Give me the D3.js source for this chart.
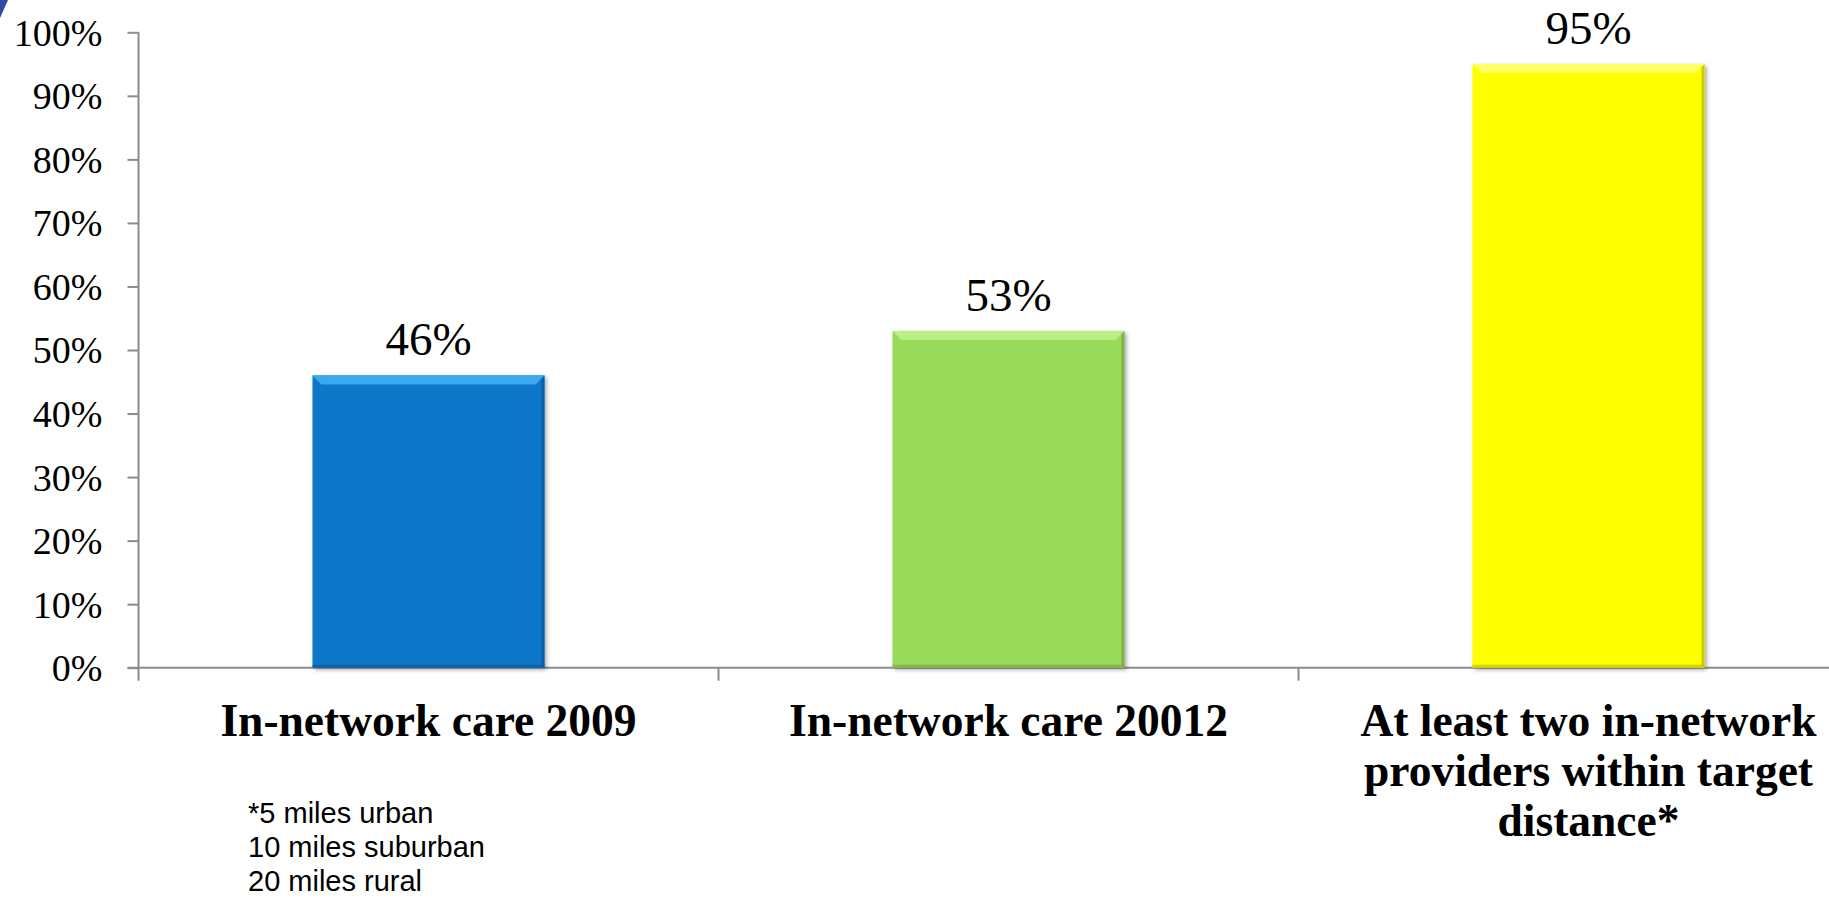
<!DOCTYPE html>
<html>
  <head>
    <meta http-equiv="Content-Type" content="text/html; charset=UTF-8">
    <style type="text/css">
      body { margin: 0; background: #fff; }
      svg { display: block; }
      .tick text, .val { font-family: 'Liberation Serif', serif; fill: #000; }
      .cat { font-family: 'Liberation Serif', serif; font-weight: bold; fill: #000; }
      .note { font-family: 'Liberation Sans', Arial, sans-serif; fill: #000; }
    </style>
  </head>
  <body>
    <div id="canvas"></div>
    <script type="text/javascript" src="https://d3js.org/d3.v7.min.js"></script>
    <script type="text/javascript">

    // chart data
    var categories = ['In-network care 2009', 'In-network care 20012', 'At least two in-network providers within target distance*'];
    var catLines = [
      ['In-network care 2009'],
      ['In-network care 20012'],
      ['At least two in-network', 'providers within target', 'distance*']
    ];
    var values = [0.46, 0.53, 0.95];
    var yTicks = [0, 0.1, 0.2, 0.3, 0.4, 0.5, 0.6, 0.7, 0.8, 0.9, 1.0];
    var footnoteLines = ['*5 miles urban', '10 miles suburban', '20 miles rural'];

    var barColors = [
      {main: '#0777C9', light: '#3AA9EE', dark: '#05559A'},
      {main: '#9BDB5C', light: '#B9EF84', dark: '#6F9F42'},
      {main: '#FFFF00', light: '#FFFF66', dark: '#B8B800'}
    ];

    var width = 1829, height = 899;
    var x0 = 138.5, y0 = 667.7, yTop = 32.3;

    var svg = d3.select('#canvas').append('svg')
                .attr('width', width)
                .attr('height', height);

    var defs = svg.append('defs');
    var f = defs.append('filter').attr('id', 'shadow')
                .attr('x', '-10%').attr('y', '-10%').attr('width', '130%').attr('height', '130%');
    f.append('feDropShadow').attr('dx', 2).attr('dy', 2).attr('stdDeviation', 2)
      .attr('flood-color', '#000').attr('flood-opacity', 0.35);

    // little blue slide decoration in the corner
    svg.append('path')
       .attr('d', 'M0,0 L8,0 Q4,9 0,18 Z')
       .attr('fill', '#2E4DA7');

    var x = d3.scaleBand()
              .domain(categories)
              .range([x0, x0 + 3 * 580])
              .paddingInner(0.6)
              .paddingOuter(0.3);

    var y = d3.scaleLinear()
              .domain([0, 1])
              .range([y0, yTop]);

    // y axis
    var yAxis = d3.axisLeft(y)
                  .tickValues(yTicks)
                  .tickFormat(d3.format('.0%'))
                  .tickSize(11)
                  .tickPadding(25);

    var gy = svg.append('g')
                .attr('transform', 'translate(' + x0 + ',0)')
                .call(yAxis);
    gy.select('.domain').remove();
    gy.selectAll('.tick line').attr('stroke', '#8C8C8C').attr('stroke-width', 2);
    gy.selectAll('.tick text').attr('font-size', 38).attr('dy', '0.34em');

    // axis lines
    svg.append('line')
       .attr('x1', x0).attr('x2', x0)
       .attr('y1', yTop).attr('y2', y0 + 13)
       .attr('stroke', '#8C8C8C').attr('stroke-width', 2);
    svg.append('line')
       .attr('x1', x0 - 11).attr('x2', width)
       .attr('y1', y0).attr('y2', y0)
       .attr('stroke', '#8C8C8C').attr('stroke-width', 2);

    // x ticks at the category boundaries
    var bounds = categories.map(function (c) {
      return x(c) + x.bandwidth() / 2 - x.step() / 2;
    });
    svg.selectAll('.xtick')
       .data(bounds.slice(1))
       .enter().append('line')
       .attr('class', 'xtick')
       .attr('x1', function (d) { return d; })
       .attr('x2', function (d) { return d; })
       .attr('y1', y0)
       .attr('y2', y0 + 13)
       .attr('stroke', '#8C8C8C').attr('stroke-width', 2);

    // bars with a small bevel
    var bev = 9;
    var bars = svg.selectAll('.bar')
                  .data(values)
                  .enter().append('g')
                  .attr('class', 'bar');

    bars.append('rect')
        .attr('x', function (d, i) { return x(categories[i]); })
        .attr('y', function (d) { return y(d); })
        .attr('width', x.bandwidth())
        .attr('height', function (d) { return y0 - y(d); })
        .attr('fill', function (d, i) { return barColors[i].main; })
        .attr('filter', 'url(#shadow)');

    // top bevel
    bars.append('path')
        .attr('d', function (d, i) {
          var l = x(categories[i]), r = l + x.bandwidth(), t = y(d);
          return 'M' + l + ',' + t + 'L' + r + ',' + t + 'L' + (r - bev) + ',' + (t + bev) +
                 'L' + (l + bev) + ',' + (t + bev) + 'Z';
        })
        .attr('fill', function (d, i) { return barColors[i].light; });

    // right edge
    bars.append('path')
        .attr('d', function (d, i) {
          var r = x(categories[i]) + x.bandwidth(), t = y(d);
          return 'M' + r + ',' + t + 'L' + r + ',' + y0 + 'L' + (r - 3) + ',' + (y0 - 3) +
                 'L' + (r - 3) + ',' + (t + 3) + 'Z';
        })
        .attr('fill', function (d, i) { return barColors[i].dark; })
        .attr('opacity', 0.7);

    // bottom edge
    bars.append('rect')
        .attr('x', function (d, i) { return x(categories[i]); })
        .attr('y', y0 - 3)
        .attr('width', x.bandwidth())
        .attr('height', 3)
        .attr('fill', function (d, i) { return barColors[i].dark; })
        .attr('opacity', 0.6);

    // value labels
    svg.selectAll('.val')
       .data(values)
       .enter().append('text')
       .attr('class', 'val')
       .attr('text-anchor', 'middle')
       .attr('font-size', 47)
       .attr('x', function (d, i) { return x(categories[i]) + x.bandwidth() / 2; })
       .attr('y', function (d) { return y(d) - 20; })
       .text(function (d) { return d3.format('.0%')(d); });

    // category labels
    var cats = svg.selectAll('.cat')
                  .data(categories)
                  .enter().append('text')
                  .attr('class', 'cat')
                  .attr('text-anchor', 'middle')
                  .attr('font-size', 45.5)
                  .attr('x', function (d) { return x(d) + x.bandwidth() / 2; })
                  .attr('y', 736);
    cats.selectAll('tspan')
        .data(function (d, i) { return catLines[i]; })
        .enter().append('tspan')
        .attr('x', function () { return x(d3.select(this.parentNode).datum()) + x.bandwidth() / 2; })
        .attr('dy', function (d, i) { return i === 0 ? 0 : 50; })
        .text(function (d) { return d; });

    // footnote
    svg.append('text')
       .attr('class', 'note')
       .attr('font-size', 29)
       .attr('x', 248)
       .attr('y', 823)
       .selectAll('tspan')
       .data(footnoteLines)
       .enter().append('tspan')
       .attr('x', 248)
       .attr('dy', function (d, i) { return i === 0 ? 0 : 34; })
       .text(function (d) { return d; });

    </script>
  </body>
</html>
